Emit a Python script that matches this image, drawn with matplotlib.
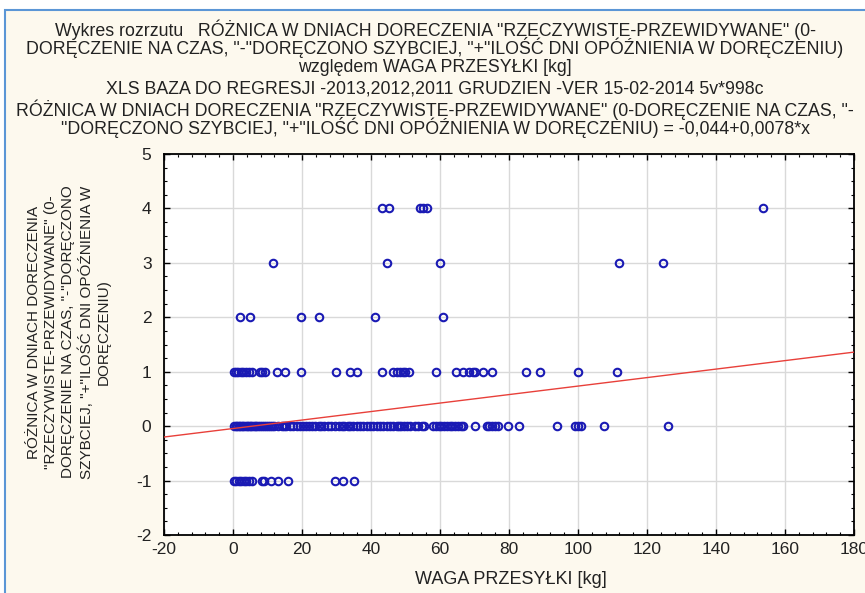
import numpy as np
import matplotlib
matplotlib.use("Agg")
import matplotlib.pyplot as plt
from matplotlib.patches import Rectangle
from matplotlib.ticker import MultipleLocator

plt.rcParams['font.family'] = ['Liberation Sans', 'DejaVu Sans']
plt.rcParams['axes.unicode_minus'] = False

# delivery delay (days) vs parcel weight (kg), one list per delay level
weight_m1 = [0.2, 0.9, 1.6, 2.4, 3.1, 3.9, 4.7, 5.5, 8.5, 9.0, 10.9, 13.1, 16.0,
             29.6, 32.0, 35.0]
weight_0 = [0.3, 0.8, 1.2, 1.7, 2.1, 2.6, 3.0, 3.5, 4.0, 4.4, 4.9, 5.3, 5.8, 6.3,
            6.8, 7.3, 7.9, 8.4, 9.0, 9.6, 10.1, 10.7, 11.3, 11.9, 13.0, 14.1,
            14.8, 15.4, 16.5, 17.5, 18.6, 19.4, 20.4, 21.2, 22.0, 22.8, 23.8,
            24.8, 25.6, 26.5, 27.4, 28.4, 29.6, 30.7, 31.5, 32.3, 33.2, 34.0,
            34.9, 35.8, 36.7, 37.7, 38.7, 39.7, 40.7, 41.7, 42.6, 43.5, 44.5,
            45.4, 46.4, 47.4, 48.0, 48.8, 49.6, 50.5, 51.3, 52.8, 53.5, 54.7,
            55.3, 58.1, 58.8, 59.6, 60.4, 61.2, 62.0, 62.8, 63.6, 64.4, 65.2,
            66.1, 66.8, 70.1, 73.5, 74.2, 75.0, 75.8, 76.9, 79.8, 82.9, 93.8,
            99.1, 100.0, 100.9, 107.6, 126.0]
weight_1 = [0.2, 0.8, 1.5, 2.3, 3.0, 3.8, 4.6, 5.5, 7.8, 8.5, 9.3, 12.7, 15.1,
            19.7, 29.8, 33.9, 35.8, 43.1, 46.5, 47.5, 48.4, 49.2, 49.9, 51.1,
            58.8, 64.6, 66.8, 68.5, 69.5, 70.1, 72.6, 75.0, 84.9, 89.0, 99.9,
            111.2]
weight_2 = [2.0, 4.9, 19.7, 25.0, 41.1, 60.9]
weight_3 = [11.7, 44.7, 59.9, 112.0, 124.7]
weight_4 = [43.2, 45.3, 54.3, 55.2, 56.1, 153.7]

# fitted line: y = -0.044 + 0.0078 * x
intercept = -0.044
slope = 0.0078

header_lines = [
    'Wykres rozrzutu   RÓŻNICA W DNIACH DORECZENIA "RZECZYWISTE-PRZEWIDYWANE" (0-',
    'DORĘCZENIE NA CZAS, "-"DORĘCZONO SZYBCIEJ, "+"ILOŚĆ DNI OPÓŹNIENIA W DORĘCZENIU)',
    'względem WAGA PRZESYŁKI [kg]',
    'XLS BAZA DO REGRESJI -2013,2012,2011 GRUDZIEN -VER 15-02-2014 5v*998c',
    'RÓŻNICA W DNIACH DORECZENIA "RZECZYWISTE-PRZEWIDYWANE" (0-DORĘCZENIE NA CZAS, "-',
    '"DORĘCZONO SZYBCIEJ, "+"ILOŚĆ DNI OPÓŹNIENIA W DORĘCZENIU) = -0,044+0,0078*x',
]
header_y = [30, 48, 67, 89, 110, 128]
ylabel = ('RÓŻNICA W DNIACH DORECZENIA\n"RZECZYWISTE-PRZEWIDYWANE" (0-\n'
          'DORĘCZENIE NA CZAS, "-"DORĘCZONO\nSZYBCIEJ, "+"ILOŚĆ DNI OPÓŹNIENIA W\n'
          'DORĘCZENIU)')
xlabel = 'WAGA PRZESYŁKI [kg]'

W, H = 865, 593
ink = '#222222'
fig = plt.figure(figsize=(W / 100, H / 100), dpi=100, facecolor='white')
frame = Rectangle((5 / W, -0.1), 1.2, 1.1 - 10 / H, transform=fig.transFigure,
                  facecolor='#fdf9ee', edgecolor='#5b96d6', linewidth=1.5, zorder=-10)
fig.patches.append(frame)

ax = fig.add_axes([164 / W, 1 - 535 / H, 690 / W, 381 / H])
ax.set_facecolor('white')

dot = dict(linestyle='none', marker='o', markersize=5.4, markerfacecolor='none',
           markeredgecolor='#1a1ab4', markeredgewidth=1.5, zorder=3)
for level, xs in zip([-1, 0, 1, 2, 3, 4],
                     [weight_m1, weight_0, weight_1, weight_2, weight_3, weight_4]):
    ax.plot(xs, [level] * len(xs), **dot)

xl = np.array([-20, 180])
ax.plot(xl, intercept + slope * xl, color='#e8403a', linewidth=1.0, zorder=4)

ax.set_xlim(-20, 180)
ax.set_ylim(-2, 5)
ax.xaxis.set_major_locator(MultipleLocator(20))
ax.xaxis.set_minor_locator(MultipleLocator(4))
ax.yaxis.set_major_locator(MultipleLocator(1))
ax.yaxis.set_minor_locator(MultipleLocator(0.25))
ax.grid(True, which='major', color='#d9d9d9', linewidth=1.0, zorder=0)
ax.set_axisbelow(True)
ax.tick_params(which='both', direction='in', top=True, right=True, colors='black',
               labelsize=12.5, labelcolor=ink)
ax.tick_params(which='major', length=4, width=1)
ax.tick_params(which='minor', length=2, width=0.8)
ax.tick_params(axis='x', pad=5)
ax.tick_params(axis='y', pad=9)
for s in ax.spines.values():
    s.set_linewidth(1.3)

for text, y in zip(header_lines, header_y):
    fig.text(0.503, 1 - y / H, text, ha='center', va='center', fontsize=12.8, color=ink)
fig.text(69 / W, 1 - 332 / H, ylabel, rotation=90, ha='center', va='center',
         multialignment='center', fontsize=11, linespacing=1.27, color=ink)
fig.text(511 / W, 1 - 579 / H, xlabel, ha='center', va='center', fontsize=13,
         color=ink)

fig.savefig('out.png', dpi=100, facecolor=fig.get_facecolor())
